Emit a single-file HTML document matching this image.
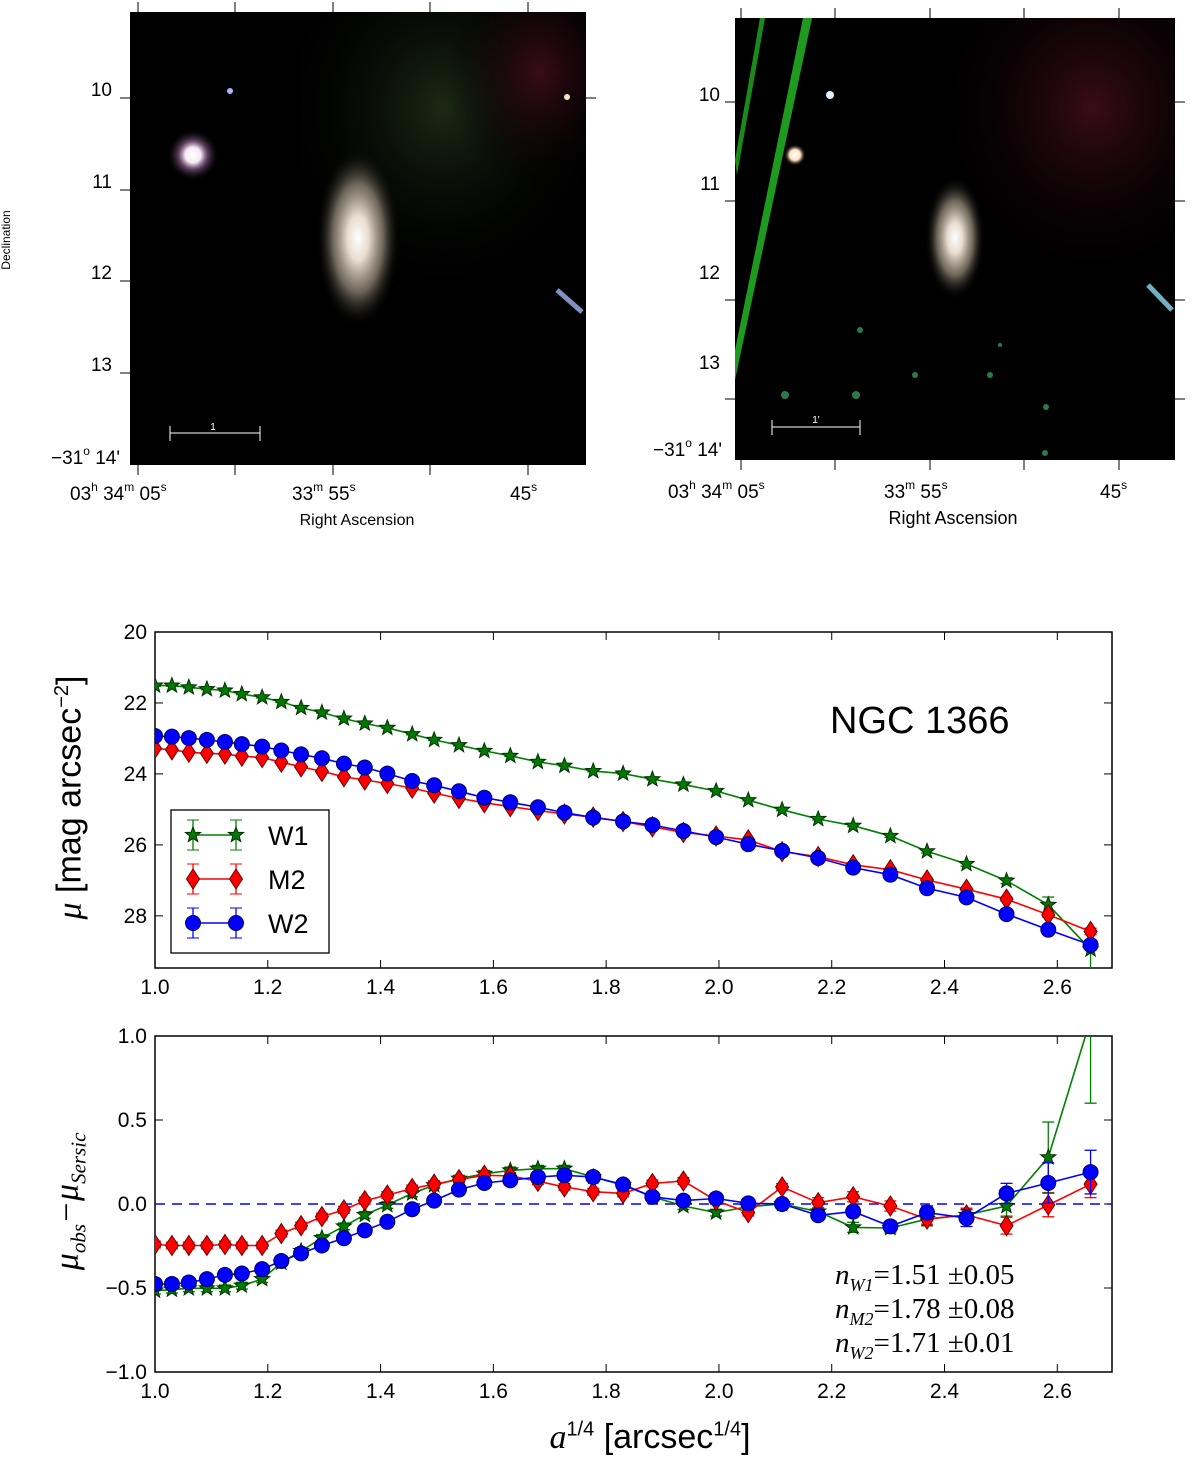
<!DOCTYPE html>
<html><head><meta charset="utf-8"><style>
html,body{margin:0;padding:0;background:#fff;}
svg{display:block;font-family:"Liberation Sans","DejaVu Sans",sans-serif;}
</style></head><body>
<svg id="fig" width="1200" height="1467" viewBox="0 0 1200 1467" xmlns="http://www.w3.org/2000/svg">
<defs>
<radialGradient id="gal" cx="50%" cy="50%" r="50%"><stop offset="0" stop-color="#fff"/><stop offset="0.25" stop-color="#e8ddd0"/><stop offset="0.6" stop-color="#8a8070" stop-opacity="0.8"/><stop offset="1" stop-color="#000" stop-opacity="0"/></radialGradient>
<radialGradient id="star" cx="50%" cy="50%" r="50%"><stop offset="0" stop-color="#fff"/><stop offset="0.3" stop-color="#f6eaf6"/><stop offset="0.55" stop-color="#8a608a" stop-opacity="0.7"/><stop offset="1" stop-color="#000" stop-opacity="0"/></radialGradient>
<radialGradient id="star2" cx="50%" cy="50%" r="50%"><stop offset="0" stop-color="#fff"/><stop offset="0.5" stop-color="#ffe0c0"/><stop offset="1" stop-color="#000" stop-opacity="0"/></radialGradient>
<radialGradient id="gtint" cx="50%" cy="30%" r="60%"><stop offset="0" stop-color="#1b2a14"/><stop offset="1" stop-color="#000" stop-opacity="0"/></radialGradient>
<radialGradient id="rtint" cx="70%" cy="30%" r="60%"><stop offset="0" stop-color="#3a0c18"/><stop offset="1" stop-color="#000" stop-opacity="0"/></radialGradient>
<clipPath id="clipU"><rect x="155" y="632" width="957" height="336"/></clipPath>
<clipPath id="clipL"><rect x="155" y="1036" width="957" height="336"/></clipPath>
</defs>

<!-- Left image -->
<g>
<rect x="130" y="12" width="456" height="453" fill="#000"/>
<rect x="300" y="12" width="286" height="320" fill="url(#gtint)"/>
<rect x="430" y="12" width="156" height="200" fill="url(#rtint)"/>
<ellipse cx="358" cy="238" rx="42" ry="90" fill="url(#gal)"/>
<circle cx="193" cy="155" r="26" fill="url(#star)"/>
<circle cx="230" cy="91" r="3" fill="#b0b0ff"/>
<circle cx="567" cy="97" r="3" fill="#f0e8c0"/>
<line x1="557" y1="290" x2="582" y2="312" stroke="#8090c0" stroke-width="5"/>
<line x1="170" y1="433" x2="260" y2="433" stroke="#fff" stroke-width="1"/>
<line x1="170" y1="426" x2="170" y2="441" stroke="#fff"/><line x1="260" y1="426" x2="260" y2="441" stroke="#fff"/>
<text x="213" y="430" fill="#fff" font-size="10" text-anchor="middle">1</text>
<g stroke="#000" stroke-width="1">
<line x1="138" y1="12" x2="138" y2="2"/><line x1="235" y1="12" x2="235" y2="2"/><line x1="333" y1="12" x2="333" y2="2"/><line x1="430" y1="12" x2="430" y2="2"/><line x1="528" y1="12" x2="528" y2="2"/>
<line x1="138" y1="465" x2="138" y2="475"/><line x1="235" y1="465" x2="235" y2="475"/><line x1="333" y1="465" x2="333" y2="475"/><line x1="430" y1="465" x2="430" y2="475"/><line x1="528" y1="465" x2="528" y2="475"/>
<line x1="120" y1="98" x2="130" y2="98"/><line x1="120" y1="190" x2="130" y2="190"/><line x1="120" y1="281" x2="130" y2="281"/><line x1="120" y1="373" x2="130" y2="373"/>
<line x1="586" y1="98" x2="596" y2="98"/>
</g>
<g font-size="19" fill="#000">
<text x="112" y="96" text-anchor="end">10</text><text x="112" y="188" text-anchor="end">11</text><text x="112" y="279" text-anchor="end">12</text><text x="112" y="371" text-anchor="end">13</text>
<text x="120" y="464" text-anchor="end">−31<tspan font-size="12" dy="-9">o</tspan><tspan dy="9"> 14'</tspan></text>
</g>
<text x="10" y="240" font-size="12" transform="rotate(-90 10 240)" text-anchor="middle">Declination</text>
<g font-size="19">
<text x="70" y="500">03<tspan font-size="12" dy="-9">h</tspan><tspan dy="9"> 34</tspan><tspan font-size="12" dy="-9">m</tspan><tspan dy="9"> 05</tspan><tspan font-size="12" dy="-9">s</tspan></text>
<text x="292" y="500">33<tspan font-size="12" dy="-9">m</tspan><tspan dy="9"> 55</tspan><tspan font-size="12" dy="-9">s</tspan></text>
<text x="510" y="500">45<tspan font-size="12" dy="-9">s</tspan></text>
</g>
<text x="357" y="525" font-size="16" text-anchor="middle">Right Ascension</text>
</g>

<!-- Right image -->
<g>
<rect x="735" y="18" width="440" height="442" fill="#000"/>
<rect x="900" y="18" width="275" height="300" fill="url(#rtint)"/>
<polygon points="735,160 760,18 765,18 737,175" fill="#1a8a1a"/>
<polygon points="735,350 803,18 812,18 735,380" fill="#1e9a1e"/>
<ellipse cx="955" cy="238" rx="30" ry="62" fill="url(#gal)"/>
<circle cx="795" cy="155" r="11" fill="url(#star2)"/>
<circle cx="830" cy="95" r="4" fill="#e0f0ff"/>
<line x1="1148" y1="285" x2="1172" y2="310" stroke="#70b0c0" stroke-width="5"/>
<g fill="#2a7a4a">
<circle cx="785" cy="395" r="4"/><circle cx="856" cy="395" r="4"/><circle cx="915" cy="375" r="3"/>
<circle cx="1046" cy="407" r="3"/><circle cx="860" cy="330" r="3"/><circle cx="1045" cy="453" r="3"/>
<circle cx="990" cy="375" r="3"/><circle cx="1000" cy="345" r="2"/>
</g>
<line x1="772" y1="427" x2="860" y2="427" stroke="#fff"/>
<line x1="772" y1="420" x2="772" y2="435" stroke="#fff"/><line x1="860" y1="420" x2="860" y2="435" stroke="#fff"/>
<text x="816" y="423" fill="#fff" font-size="10" text-anchor="middle">1'</text>
<g stroke="#000" stroke-width="1">
<line x1="741" y1="18" x2="741" y2="8"/><line x1="835" y1="18" x2="835" y2="8"/><line x1="930" y1="18" x2="930" y2="8"/><line x1="1024" y1="18" x2="1024" y2="8"/><line x1="1119" y1="18" x2="1119" y2="8"/>
<line x1="741" y1="460" x2="741" y2="470"/><line x1="835" y1="460" x2="835" y2="470"/><line x1="930" y1="460" x2="930" y2="470"/><line x1="1024" y1="460" x2="1024" y2="470"/><line x1="1119" y1="460" x2="1119" y2="470"/>
<line x1="725" y1="102" x2="735" y2="102"/><line x1="725" y1="201" x2="735" y2="201"/><line x1="725" y1="300" x2="735" y2="300"/><line x1="725" y1="399" x2="735" y2="399"/>
<line x1="1175" y1="102" x2="1185" y2="102"/><line x1="1175" y1="201" x2="1185" y2="201"/><line x1="1175" y1="300" x2="1185" y2="300"/><line x1="1175" y1="399" x2="1185" y2="399"/>
</g>
<g font-size="19">
<text x="720" y="101" text-anchor="end">10</text><text x="720" y="190" text-anchor="end">11</text><text x="720" y="279" text-anchor="end">12</text><text x="720" y="369" text-anchor="end">13</text>
<text x="722" y="456" text-anchor="end">−31<tspan font-size="12" dy="-9">o</tspan><tspan dy="9"> 14'</tspan></text>
</g>
<g font-size="19">
<text x="668" y="498">03<tspan font-size="12" dy="-9">h</tspan><tspan dy="9"> 34</tspan><tspan font-size="12" dy="-9">m</tspan><tspan dy="9"> 05</tspan><tspan font-size="12" dy="-9">s</tspan></text>
<text x="884" y="498">33<tspan font-size="12" dy="-9">m</tspan><tspan dy="9"> 55</tspan><tspan font-size="12" dy="-9">s</tspan></text>
<text x="1100" y="498">45<tspan font-size="12" dy="-9">s</tspan></text>
</g>
<text x="953" y="524" font-size="18" text-anchor="middle">Right Ascension</text>
</g>

<g id="plots"></g>
</svg>
<script>
const xVals=[1.000,1.030,1.060,1.092,1.124,1.154,1.190,1.224,1.259,1.296,1.335,1.372,1.412,1.456,1.495,1.539,1.584,1.630,1.679,1.726,1.777,1.830,1.882,1.937,1.995,2.052,2.112,2.176,2.238,2.304,2.369,2.439,2.510,2.584,2.659];
const muW1=[21.51,21.51,21.56,21.61,21.65,21.75,21.84,21.97,22.14,22.27,22.44,22.58,22.70,22.88,23.04,23.19,23.35,23.49,23.66,23.77,23.92,23.99,24.15,24.30,24.48,24.74,25.01,25.27,25.46,25.75,26.18,26.54,27.01,27.69,28.95];
const muM2=[23.28,23.32,23.39,23.42,23.44,23.50,23.54,23.67,23.80,23.93,24.08,24.17,24.27,24.40,24.54,24.69,24.81,24.92,25.03,25.13,25.22,25.34,25.49,25.65,25.75,25.86,26.19,26.33,26.56,26.70,26.99,27.25,27.53,27.97,28.44];
const muW2=[22.93,22.95,22.99,23.04,23.10,23.16,23.23,23.34,23.45,23.56,23.71,23.82,23.99,24.20,24.32,24.49,24.67,24.80,24.94,25.09,25.23,25.34,25.44,25.61,25.78,25.98,26.17,26.37,26.64,26.84,27.22,27.48,27.95,28.39,28.82];
const errMuW1=[0.02,0.02,0.02,0.02,0.02,0.02,0.02,0.02,0.02,0.02,0.02,0.02,0.02,0.02,0.02,0.02,0.02,0.02,0.02,0.02,0.02,0.02,0.02,0.02,0.02,0.02,0.03,0.03,0.03,0.04,0.05,0.06,0.08,0.22,0.6];
const errMuM2=[0.02,0.02,0.02,0.02,0.02,0.02,0.02,0.02,0.02,0.02,0.02,0.02,0.02,0.02,0.02,0.02,0.02,0.02,0.02,0.02,0.02,0.02,0.02,0.02,0.02,0.02,0.03,0.03,0.03,0.04,0.05,0.05,0.06,0.07,0.09];
const errMuW2=[0.02,0.02,0.02,0.02,0.02,0.02,0.02,0.02,0.02,0.02,0.02,0.02,0.02,0.02,0.02,0.02,0.02,0.02,0.02,0.02,0.02,0.02,0.02,0.02,0.02,0.02,0.03,0.03,0.03,0.03,0.04,0.04,0.06,0.1,0.13];
const resW1=[-0.516,-0.510,-0.502,-0.502,-0.502,-0.486,-0.447,-0.349,-0.280,-0.202,-0.133,-0.065,-0.006,0.063,0.112,0.151,0.180,0.200,0.210,0.210,0.161,0.112,0.043,-0.012,-0.051,-0.016,0.000,-0.045,-0.139,-0.143,-0.090,-0.065,-0.012,0.278,1.10];
const resM2=[-0.241,-0.247,-0.247,-0.247,-0.241,-0.247,-0.247,-0.176,-0.129,-0.075,-0.035,0.020,0.053,0.092,0.118,0.145,0.171,0.167,0.135,0.102,0.073,0.063,0.122,0.137,0.020,-0.051,0.102,0.008,0.043,-0.012,-0.090,-0.065,-0.129,-0.006,0.118];
const resW2=[-0.476,-0.476,-0.467,-0.447,-0.422,-0.414,-0.388,-0.339,-0.294,-0.247,-0.204,-0.157,-0.106,-0.031,0.020,0.086,0.125,0.141,0.161,0.171,0.161,0.116,0.043,0.020,0.033,0.004,0.000,-0.067,-0.045,-0.133,-0.051,-0.084,0.063,0.125,0.190];
const errResW1=[0.02,0.02,0.02,0.02,0.02,0.02,0.02,0.02,0.02,0.02,0.02,0.02,0.02,0.02,0.02,0.02,0.02,0.02,0.02,0.02,0.02,0.02,0.02,0.02,0.02,0.02,0.02,0.02,0.03,0.03,0.04,0.04,0.06,0.21,0.5];
const errResM2=[0.02,0.02,0.02,0.02,0.02,0.02,0.02,0.02,0.02,0.02,0.02,0.02,0.02,0.02,0.02,0.02,0.02,0.02,0.02,0.02,0.02,0.02,0.02,0.02,0.02,0.02,0.02,0.03,0.03,0.03,0.03,0.04,0.05,0.07,0.08];
const errResW2=[0.02,0.02,0.02,0.02,0.02,0.02,0.02,0.02,0.02,0.02,0.02,0.02,0.02,0.02,0.02,0.02,0.02,0.02,0.02,0.02,0.02,0.02,0.02,0.02,0.02,0.02,0.02,0.02,0.03,0.03,0.04,0.05,0.06,0.12,0.13];
const xTicks=[1.0,1.2,1.4,1.6,1.8,2.0,2.2,2.4,2.6];
const yTicksU=[20,22,24,26,28];
const yTicksL=[-1.0,-0.5,0.0,0.5,1.0];

const NS="http://www.w3.org/2000/svg";
const root=document.getElementById('plots');
function mk(tag,attrs,parent){const e=document.createElementNS(NS,tag);for(const k in attrs)e.setAttribute(k,attrs[k]);(parent||root).appendChild(e);return e;}
const X0=155,X1=1112;
function sx(v){return X0+(v-1.0)/(2.697-1.0)*(X1-X0);}
function syU(v){return 632+(v-20)/(29.47-20)*336;}
function syL(v){return 1372-(v+1)/2*336;}

function starPts(cx,cy,r){let p=[];for(let i=0;i<10;i++){const a=-Math.PI/2+i*Math.PI/5;const rr=i%2?r*0.42:r;p.push((cx+rr*Math.cos(a)).toFixed(1)+','+(cy+rr*Math.sin(a)).toFixed(1));}return p.join(' ');}
function marker(kind,cx,cy,g){
  if(kind==='star')return mk('polygon',{points:starPts(cx,cy,8),fill:'#007a00',stroke:'#003000','stroke-width':1},g);
  if(kind==='diamond')return mk('polygon',{points:`${cx},${cy-10} ${cx+6.5},${cy} ${cx},${cy+10} ${cx-6.5},${cy}`,fill:'#ff0000',stroke:'#600','stroke-width':1},g);
  return mk('circle',{cx:cx,cy:cy,r:7.5,fill:'#0000ff',stroke:'#000060','stroke-width':1},g);
}
function series(name,xs,ys,es,sy,color,kind,clip){
  const g=mk('g',{'clip-path':'url(#'+clip+')'});
  
  
  for(let i=0;i<xs.length;i++){
    const x=sx(xs[i]),a=sy(ys[i]-es[i]),b=sy(ys[i]+es[i]);
    const eb=mk('g',{stroke:color,'stroke-width':1.3},g);
    
    
    mk('line',{x1:x,y1:a,x2:x,y2:b},eb);mk('line',{x1:x-6,y1:a,x2:x+6,y2:a},eb);mk('line',{x1:x-6,y1:b,x2:x+6,y2:b},eb);
  }
  const d=xs.map((v,i)=>(i?'L':'M')+sx(v).toFixed(1)+','+sy(ys[i]).toFixed(1)).join(' ');
  const ln=mk('path',{d:d,fill:'none',stroke:color,'stroke-width':1.6},g);
  
  
  xs.forEach((v,i)=>{const m=marker(kind,sx(v),sy(ys[i]),g);
    
    });
}
function axes(name,top,bot,yTicks,sy,fmt){
  const g=mk('g',{});
  
  
  mk('rect',{x:X0,y:top,width:X1-X0,height:bot-top,fill:'none',stroke:'#000','stroke-width':1.5},g);
  xTicks.forEach(t=>{const x=sx(t);mk('line',{x1:x,y1:bot,x2:x,y2:bot-8,stroke:'#000'},g);mk('line',{x1:x,y1:top,x2:x,y2:top+8,stroke:'#000'},g);
    const tx=mk('text',{x:x,y:bot+26,'font-size':21,'text-anchor':'middle'},g);tx.textContent=t.toFixed(1);
    
    });
  yTicks.forEach(t=>{const y=sy(t);mk('line',{x1:X0,y1:y,x2:X0+8,y2:y,stroke:'#000'},g);mk('line',{x1:X1,y1:y,x2:X1-8,y2:y,stroke:'#000'},g);
    const tx=mk('text',{x:X0-8,y:y+7,'font-size':21,'text-anchor':'end'},g);tx.textContent=fmt(t);
    
    });
}
axes('upper-axes',632,968,yTicksU,syU,t=>String(t));
series('series-w1',xVals,muW1,errMuW1,syU,'#008000','star','clipU');
series('series-m2',xVals,muM2,errMuM2,syU,'#ff0000','diamond','clipU');
series('series-w2',xVals,muW2,errMuW2,syU,'#0000ff','circle','clipU');
axes('lower-axes',1036,1372,yTicksL,syL,t=>t<0?'−'+Math.abs(t).toFixed(1):t.toFixed(1));
const zl=mk('line',{x1:X0,y1:syL(0),x2:X1,y2:syL(0),stroke:'#0000ff','stroke-width':1.5,'stroke-dasharray':'10,7'});


series('residual-w1',xVals,resW1,errResW1,syL,'#008000','star','clipL');
series('residual-m2',xVals,resM2,errResM2,syL,'#ff0000','diamond','clipL');
series('residual-w2',xVals,resW2,errResW2,syL,'#0000ff','circle','clipL');
const lg=mk('g',{});


mk('rect',{x:171,y:810,width:158,height:143,fill:'#fff',stroke:'#000','stroke-width':1.3},lg);
[['W1','#008000','star',835],['M2','#ff0000','diamond',879],['W2','#0000ff','circle',923]].forEach(([lab,c,k,y])=>{
  const e=mk('g',{},lg);
  
  
  mk('line',{x1:193,y1:y,x2:236,y2:y,stroke:c,'stroke-width':1.6},e);
  [193,236].forEach(xx=>{mk('line',{x1:xx,y1:y-15,x2:xx,y2:y+15,stroke:c,'stroke-width':1.3},e);mk('line',{x1:xx-6,y1:y-15,x2:xx+6,y2:y-15,stroke:c},e);mk('line',{x1:xx-6,y1:y+15,x2:xx+6,y2:y+15,stroke:c},e);marker(k,xx,y,e);});
  const t=mk('text',{x:268,y:y+10,'font-size':27},e);t.textContent=lab;
});
</script>
<div style="position:absolute;left:0;top:0;width:1200px;height:1467px;pointer-events:none;">
<div style="position:absolute;left:830px;top:700px;font:38px 'Liberation Sans',sans-serif;color:#000;">NGC 1366</div>
<div style="position:absolute;left:-95px;top:778px;width:330px;text-align:center;transform:rotate(-90deg);font:34px 'Liberation Sans',sans-serif;white-space:nowrap;"><i style="font-family:'Liberation Serif',serif;">μ</i> [mag arcsec<sup style="font-size:20px;">−2</sup>]</div>
<div style="position:absolute;left:-80px;top:1180px;width:300px;text-align:center;transform:rotate(-90deg);font:italic 34px 'Liberation Serif',serif;white-space:nowrap;">μ<sub style="font-size:21px;">obs</sub>−μ<sub style="font-size:21px;">Sersic</sub></div>
<div style="position:absolute;left:835px;top:1260px;font:29px 'Liberation Serif',serif;">
<div style="height:34px;line-height:30px;"><i>n</i><sub style="font-size:18px;line-height:0;"><i>W1</i></sub>=1.51 ±0.05</div>
<div style="height:34px;line-height:30px;"><i>n</i><sub style="font-size:18px;line-height:0;"><i>M2</i></sub>=1.78 ±0.08</div>
<div style="height:34px;line-height:30px;"><i>n</i><sub style="font-size:18px;line-height:0;"><i>W2</i></sub>=1.71 ±0.01</div>
</div>
<div style="position:absolute;left:400px;top:1418px;width:500px;text-align:center;font:34px 'Liberation Sans',sans-serif;white-space:nowrap;"><i style="font-family:'Liberation Serif',serif;">a</i><sup style="font-size:20px;">1/4</sup> [arcsec<sup style="font-size:20px;">1/4</sup>]</div>
</div>
</body></html>
